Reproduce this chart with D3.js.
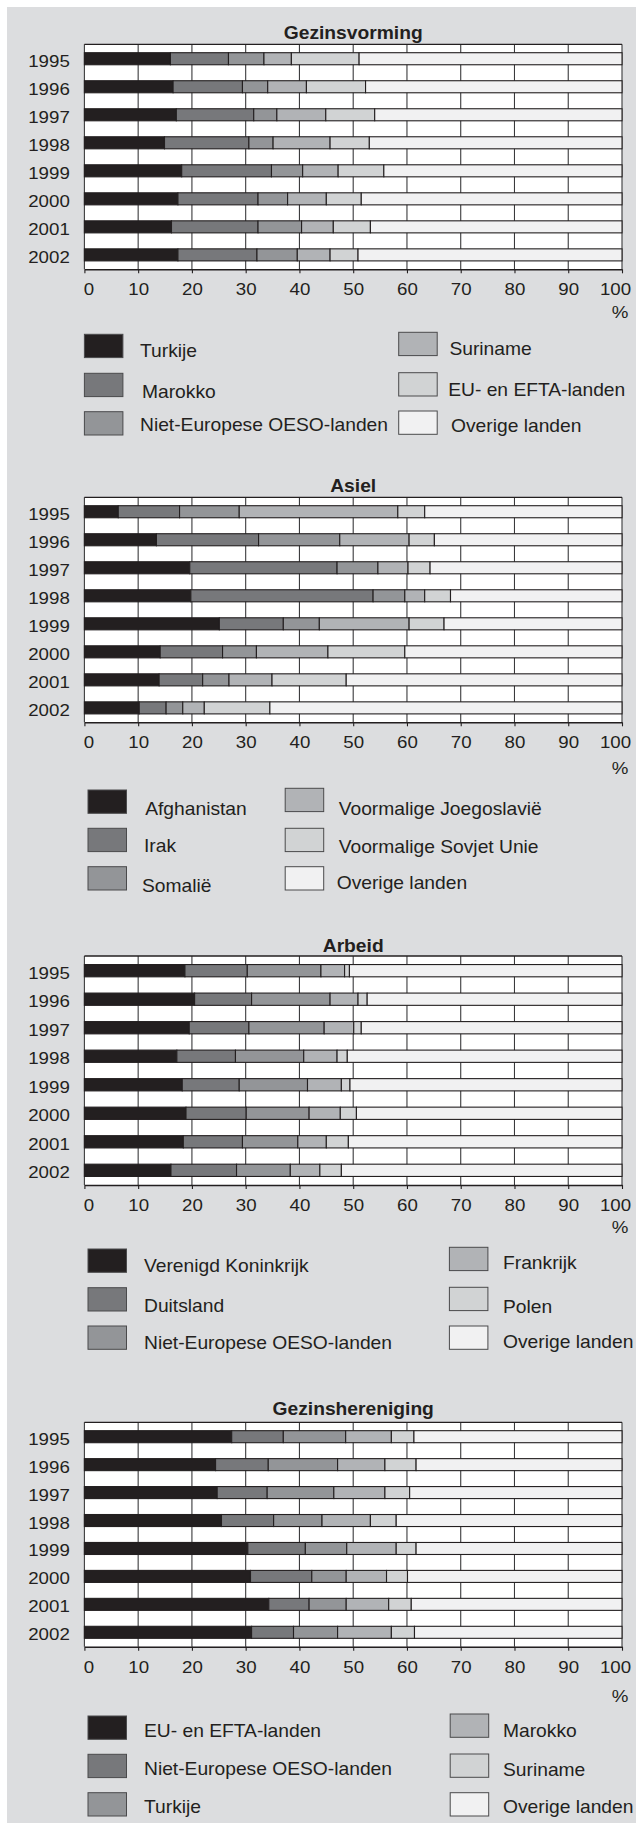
<!DOCTYPE html>
<html>
<head>
<meta charset="utf-8">
<script src="https://cdn.jsdelivr.net/npm/d3@7"></script>
<style>
  html, body { margin: 0; padding: 0; background: #ffffff; }
  svg { display: block; }
  text { font-family: "Liberation Sans", Arial, Helvetica, sans-serif; fill: #231f20; }
</style>
</head>
<body>
<svg id="chart" width="636" height="1823"></svg>
<script>
// ---------------- DATA ----------------
const years = ["1995", "1996", "1997", "1998", "1999", "2000", "2001", "2002"];
const ticks = [0, 10, 20, 30, 40, 50, 60, 70, 80, 90, 100];
const unitLabel = "%";

// Gezinsvorming
const gvTitle = "Gezinsvorming";
const gvSeries = ["Turkije", "Marokko", "Niet-Europese OESO-landen", "Suriname", "EU- en EFTA-landen", "Overige landen"];
const gvTurkije   = [16.0, 16.5, 17.1, 14.9, 18.1, 17.4, 16.2, 17.4];
const gvMarokko   = [10.8, 12.9, 14.4, 15.7, 16.7, 14.9, 16.1, 14.7];
const gvOeso      = [6.6, 4.7, 4.3, 4.5, 5.8, 5.5, 8.1, 7.5];
const gvSuriname  = [5.1, 7.2, 9.1, 10.6, 6.6, 7.2, 5.9, 6.1];
const gvEuEfta    = [12.6, 11.0, 9.1, 7.3, 8.5, 6.5, 6.9, 5.2];
const gvOverig    = [48.9, 47.7, 46.0, 47.0, 44.3, 48.5, 46.8, 49.1];

// Asiel
const asTitle = "Asiel";
const asSeries = ["Afghanistan", "Irak", "Somalië", "Voormalige Joegoslavië", "Voormalige Sovjet Unie", "Overige landen"];
const asAfghanistan = [6.3, 13.4, 19.6, 19.8, 25.1, 14.1, 13.9, 10.2];
const asIrak        = [11.4, 19.0, 27.4, 33.9, 11.9, 11.6, 8.1, 5.0];
const asSomalie     = [11.1, 15.1, 7.6, 5.9, 6.7, 6.3, 4.9, 3.1];
const asJoegoslavie = [29.5, 12.9, 5.6, 3.7, 16.7, 13.3, 8.0, 4.0];
const asSovjetUnie  = [5.0, 4.7, 4.1, 4.8, 6.5, 14.3, 13.8, 12.2];
const asOverig      = [36.7, 34.9, 35.7, 31.9, 33.1, 40.4, 51.3, 65.5];

// Arbeid
const arTitle = "Arbeid";
const arSeries = ["Verenigd Koninkrijk", "Duitsland", "Niet-Europese OESO-landen", "Frankrijk", "Polen", "Overige landen"];
const arVK        = [18.7, 20.5, 19.5, 17.2, 18.2, 18.9, 18.4, 16.1];
const arDuitsland = [11.6, 10.6, 11.1, 10.9, 10.6, 11.2, 11.0, 12.2];
const arOeso      = [13.7, 14.6, 14.0, 12.7, 12.7, 11.7, 10.3, 10.0];
const arFrankrijk = [4.4, 5.2, 5.5, 6.2, 6.3, 5.8, 5.3, 5.5];
const arPolen     = [0.9, 1.7, 1.4, 1.9, 1.6, 3.0, 4.1, 4.0];
const arOverig    = [50.7, 47.4, 48.5, 51.1, 50.6, 49.4, 50.9, 52.2];

// Gezinshereniging
const ghTitle = "Gezinshereniging";
const ghSeries = ["EU- en EFTA-landen", "Niet-Europese OESO-landen", "Turkije", "Marokko", "Suriname", "Overige landen"];
const ghEuEfta   = [27.4, 24.4, 24.7, 25.5, 30.4, 30.9, 34.3, 31.1];
const ghOeso     = [9.6, 9.8, 9.3, 9.7, 10.7, 11.4, 7.5, 7.8];
const ghTurkije  = [11.6, 12.9, 12.4, 9.0, 7.7, 6.4, 6.9, 8.2];
const ghMarokko  = [8.5, 8.8, 9.5, 9.0, 9.2, 7.5, 7.9, 10.0];
const ghSuriname = [4.2, 5.8, 4.6, 4.8, 3.7, 3.9, 4.2, 4.3];
const ghOverig   = [38.7, 38.3, 39.5, 42.0, 38.3, 39.9, 39.2, 38.6];

// ---------------- STYLE / LAYOUT ----------------
const fills = ["#231f20", "#77787b", "#939598", "#b1b3b6", "#d1d3d4", "#f1f1f2"];
const ink = "#231f20";
const stretch = 1.1;

const panels = [
  { title: gvTitle, keys: gvSeries,
    values: [gvTurkije, gvMarokko, gvOeso, gvSuriname, gvEuEfta, gvOverig],
    top: 44.3, bottom: 269.3, titleBase: 39.3, pctBase: 318,
    leg: { sx: [84.4, 398.7],
           lx: [[140, 142, 140], [449.4, 448.2, 451]],
           sy: [[334.3, 373.3, 411.7], [332.3, 372.7, 411]],
           ly: [[356.7, 397.7, 430.7], [355, 395.7, 432.3]] } },
  { title: asTitle, keys: asSeries,
    values: [asAfghanistan, asIrak, asSomalie, asJoegoslavie, asSovjetUnie, asOverig],
    top: 497.3, bottom: 722.3, titleBase: 491.7, pctBase: 774,
    leg: { sx: [88, 285.2],
           lx: [[145.2, 144, 142], [338.7, 338.7, 336.7]],
           sy: [[790, 828.3, 866.7], [788.3, 828.3, 866.7]],
           ly: [[815, 851.7, 891.7], [815, 852.7, 889.3]] } },
  { title: arTitle, keys: arSeries,
    values: [arVK, arDuitsland, arOeso, arFrankrijk, arPolen, arOverig],
    top: 956, bottom: 1185, titleBase: 951.7, pctBase: 1233,
    leg: { sx: [88, 449.4],
           lx: [[144, 144, 144], [503, 503, 503]],
           sy: [[1249, 1287.7, 1326], [1247.3, 1287.3, 1326]],
           ly: [[1271.7, 1311.7, 1349.3], [1269.3, 1312.7, 1348.3]] } },
  { title: ghTitle, keys: ghSeries,
    values: [ghEuEfta, ghOeso, ghTurkije, ghMarokko, ghSuriname, ghOverig],
    top: 1422.3, bottom: 1646.7, titleBase: 1415, pctBase: 1702,
    leg: { sx: [88, 450.2],
           lx: [[144, 144, 144], [503, 503, 503]],
           sy: [[1716, 1754.3, 1792.7], [1714, 1754, 1792.7]],
           ly: [[1736.7, 1775, 1813.3], [1736.7, 1776, 1813.3]] } }
];

// ---------------- DRAW ----------------
const svg = d3.select("#chart");
svg.append("rect").attr("x", 7).attr("y", 7).attr("width", 629).attr("height", 1816).attr("fill", "#dcdddf");

const x = d3.scaleLinear().domain([0, 100]).range([84.4, 622]);

function stretchedText(g, str, px, py, anchor, size, weight) {
  return g.append("text")
    .attr("transform", `translate(${px},${py}) scale(${stretch},1)`)
    .attr("text-anchor", anchor)
    .attr("font-size", size)
    .attr("font-weight", weight || "normal")
    .text(str);
}

panels.forEach(p => {
  const g = svg.append("g");
  const rows = years.map((yr, i) => {
    const r = { year: yr };
    p.keys.forEach((k, j) => { r[k] = p.values[j][i]; });
    return r;
  });
  const stack = d3.stack().keys(p.keys)(rows);

  const y = d3.scaleBand().domain(years).range([p.top, p.bottom])
    .paddingInner(0.57).paddingOuter(0.3);

  // plot area
  g.append("rect").attr("x", x(0)).attr("y", p.top)
    .attr("width", x(100) - x(0)).attr("height", p.bottom - p.top)
    .attr("fill", "#ffffff");

  // vertical gridlines
  g.append("g").selectAll("line").data(ticks).join("line")
    .attr("x1", d => x(d)).attr("x2", d => x(d))
    .attr("y1", p.top).attr("y2", p.bottom)
    .attr("stroke", "#3a3a3c").attr("stroke-width", 1.1);

  // top border
  g.append("line").attr("x1", x(0)).attr("x2", x(100))
    .attr("y1", p.top).attr("y2", p.top)
    .attr("stroke", ink).attr("stroke-width", 1.3);

  // bars
  g.append("g").selectAll("g").data(stack).join("g")
    .attr("fill", (d, i) => fills[i])
    .selectAll("rect").data(d => d).join("rect")
    .attr("x", d => x(d[0]))
    .attr("y", d => y(d.data.year))
    .attr("width", d => x(d[1]) - x(d[0]))
    .attr("height", y.bandwidth())
    .attr("stroke", ink).attr("stroke-width", 1.1);

  // year labels
  years.forEach(yr => {
    stretchedText(g, yr, 69.8, y(yr) + y.bandwidth() / 2 + 8, "end", 17);
  });

  // title
  stretchedText(g, p.title, (x(0) + x(100)) / 2, p.titleBase, "middle", 17.5, "bold");

  // x axis
  const ax = g.append("g").attr("transform", `translate(0,${p.bottom})`)
    .call(d3.axisBottom(x).tickValues(ticks).tickSize(4).tickSizeOuter(0));
  ax.attr("font-family", null).attr("font-size", null);
  ax.select(".domain").attr("stroke", ink).attr("stroke-width", 1.6);
  ax.selectAll(".tick line").attr("stroke", ink).attr("stroke-width", 1.1);
  ax.selectAll(".tick text")
    .attr("y", null).attr("dy", null)
    .attr("font-size", 17)
    .attr("fill", ink)
    .attr("transform", d => {
      const dx = d === 0 ? 4 : (d === 100 ? -7 : 0);
      return `translate(${dx},26) scale(${stretch},1)`;
    });

  // unit
  stretchedText(g, unitLabel, x(100) - 2, p.pctBase, "middle", 17);

  // legend
  p.keys.forEach((k, i) => {
    const col = i < 3 ? 0 : 1;
    const row = i % 3;
    g.append("rect")
      .attr("x", p.leg.sx[col]).attr("y", p.leg.sy[col][row])
      .attr("width", 38.5).attr("height", 23.3)
      .attr("fill", fills[i]).attr("stroke", "#4a4a4c").attr("stroke-width", 1);
    stretchedText(g, k, p.leg.lx[col][row], p.leg.ly[col][row], "start", 17.5);
  });
});
</script>
</body>
</html>
